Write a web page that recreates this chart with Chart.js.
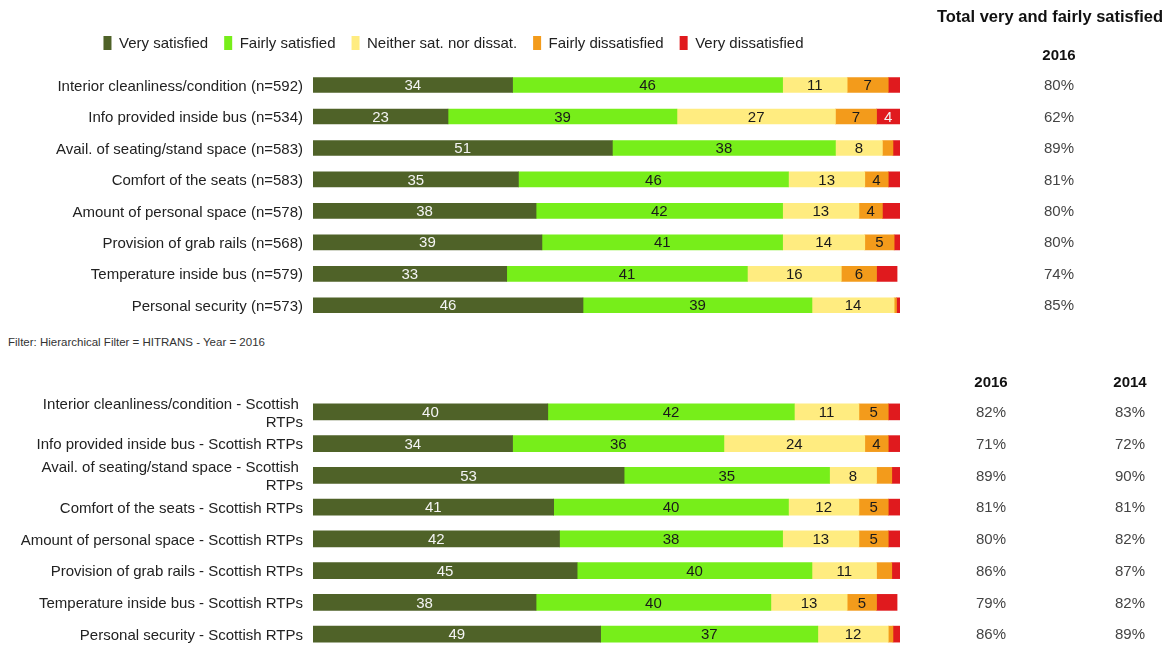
<!DOCTYPE html>
<html>
<head>
<meta charset="utf-8">
<script src="https://cdn.jsdelivr.net/npm/chart.js@4/dist/chart.umd.min.js"></script>
<style>
  html, body { margin: 0; padding: 0; width: 1172px; height: 646px; overflow: hidden; background: #fff; }
  canvas { position: absolute; left: 0; }
  #hitrans { top: 0; }
  #scottish { top: 366px; }
  #filter { position: absolute; left: 8px; top: 336px; font: 11.5px "Liberation Sans", Arial, sans-serif; color: #333; white-space: nowrap; }
</style>
</head>
<body>
<canvas id="hitrans" width="1172" height="321"></canvas>
<div id="filter">Filter: Hierarchical Filter = HITRANS - Year = 2016</div>
<canvas id="scottish" width="1172" height="284"></canvas>
<script>
// Response scale shared by both charts
const seriesNames = ['Very satisfied', 'Fairly satisfied', 'Neither sat. nor dissat.', 'Fairly dissatisfied', 'Very dissatisfied'];
const seriesColors = ['#4f6228', '#77ee1a', '#ffec80', '#f39b1b', '#e01a1e'];
const valueLabelColors = ['#f4f4f4', '#1a1a1a', '#1a1a1a', '#1a1a1a', '#f4f4f4'];

// HITRANS, 2016 (percent of respondents)
const hitransCategories = [
  'Interior cleanliness/condition (n=592)',
  'Info provided inside bus (n=534)',
  'Avail. of seating/stand space (n=583)',
  'Comfort of the seats (n=583)',
  'Amount of personal space (n=578)',
  'Provision of grab rails (n=568)',
  'Temperature inside bus (n=579)',
  'Personal security (n=573)'
];
const hitransVerySatisfied      = [34, 23, 51, 35, 38, 39, 33, 46];
const hitransFairlySatisfied    = [46, 39, 38, 46, 42, 41, 41, 39];
const hitransNeither            = [11, 27, 8, 13, 13, 14, 16, 14];
const hitransFairlyDissatisfied = [7, 7, 1.8, 4, 4, 5, 6, 0.4];
const hitransVeryDissatisfied   = [2, 4, 1.2, 2, 3, 1, 3.5, 0.6];
const hitransTotal2016 = ['80%', '62%', '89%', '81%', '80%', '80%', '74%', '85%'];

// Scottish RTPs comparison (percent of respondents)
const scottishCategories = [
  ['Interior cleanliness/condition - Scottish ', 'RTPs'],
  'Info provided inside bus - Scottish RTPs',
  ['Avail. of seating/stand space - Scottish ', 'RTPs'],
  'Comfort of the seats - Scottish RTPs',
  'Amount of personal space - Scottish RTPs',
  'Provision of grab rails - Scottish RTPs',
  'Temperature inside bus - Scottish RTPs',
  'Personal security - Scottish RTPs'
];
const scottishVerySatisfied      = [40, 34, 53, 41, 42, 45, 38, 49];
const scottishFairlySatisfied    = [42, 36, 35, 40, 38, 40, 40, 37];
const scottishNeither            = [11, 24, 8, 12, 13, 11, 13, 12];
const scottishFairlyDissatisfied = [5, 4, 2.6, 5, 5, 2.6, 5, 0.8];
const scottishVeryDissatisfied   = [2, 2, 1.4, 2, 2, 1.4, 3.5, 1.2];
const scottishTotal2016 = ['82%', '71%', '89%', '81%', '80%', '86%', '79%', '86%'];
const scottishTotal2014 = ['83%', '72%', '90%', '81%', '82%', '87%', '82%', '89%'];

const FONT = '"Liberation Sans", Arial, sans-serif';
Chart.defaults.font.family = FONT;
Chart.defaults.color = '#222';

function buildDatasets(series) {
  return series.map((values, i) => ({
    label: seriesNames[i],
    data: values,
    backgroundColor: seriesColors[i],
    borderWidth: 0
  }));
}

// Writes the rounded share inside each segment wide enough to hold it
const segmentLabels = {
  id: 'segmentLabels',
  afterDatasetsDraw(chart) {
    const ctx = chart.ctx;
    ctx.save();
    ctx.font = '15px ' + FONT;
    ctx.textAlign = 'center';
    ctx.textBaseline = 'middle';
    chart.data.datasets.forEach((ds, di) => {
      const meta = chart.getDatasetMeta(di);
      meta.data.forEach((bar, i) => {
        const v = ds.data[i];
        if (v < 4) return;
        ctx.fillStyle = valueLabelColors[di];
        ctx.fillText(String(v), (bar.x + bar.base) / 2, bar.y + 1);
      });
    });
    ctx.restore();
  }
};

// One-row key of the five response levels, centred above the bars
function legendRow(centerX, centerY) {
  return {
    id: 'legendRow',
    afterDraw(chart) {
      const ctx = chart.ctx;
      ctx.save();
      ctx.font = '15px ' + FONT;
      ctx.textBaseline = 'middle';
      ctx.textAlign = 'left';
      const boxW = 8, boxH = 14, textGap = 7.5, itemGap = 16;
      const widths = seriesNames.map(n => ctx.measureText(n).width);
      const total = widths.reduce((sum, w) => sum + boxW + textGap + w, 0) + itemGap * (seriesNames.length - 1);
      let x = centerX - total / 2;
      seriesNames.forEach((name, i) => {
        ctx.fillStyle = seriesColors[i];
        ctx.fillRect(x, centerY - boxH / 2, boxW, boxH);
        ctx.fillStyle = '#222';
        ctx.fillText(name, x + boxW + textGap, centerY + 1);
        x += boxW + textGap + widths[i] + itemGap;
      });
      ctx.restore();
    }
  };
}

// Right-hand table of "very + fairly satisfied" totals, one row per bar
function totalsColumns(cfg) {
  return {
    id: 'totalsColumns',
    afterDraw(chart) {
      const ctx = chart.ctx;
      const yScale = chart.scales.y;
      ctx.save();
      ctx.textAlign = 'center';
      ctx.textBaseline = 'middle';
      if (cfg.title) {
        ctx.font = 'bold 16.5px ' + FONT;
        ctx.fillStyle = '#111';
        ctx.fillText(cfg.title, cfg.titleX, cfg.titleY);
      }
      cfg.columns.forEach(col => {
        ctx.font = 'bold 15px ' + FONT;
        ctx.fillStyle = '#111';
        ctx.fillText(col.header, col.x, col.headerY);
        ctx.font = '15px ' + FONT;
        ctx.fillStyle = '#444';
        col.values.forEach((txt, i) => {
          ctx.fillText(txt, col.x, yScale.getPixelForValue(i) + 1);
        });
      });
      ctx.restore();
    }
  };
}

function makeChart(canvasId, categories, series, opts) {
  const plugins = [segmentLabels, totalsColumns(opts.totals)];
  if (opts.legend) plugins.push(legendRow(opts.legend.x, opts.legend.y));
  return new Chart(document.getElementById(canvasId), {
    type: 'bar',
    data: { labels: categories, datasets: buildDatasets(series) },
    options: {
      indexAxis: 'y',
      responsive: false,
      animation: false,
      events: [],
      barThickness: opts.barThickness,
      layout: { padding: { left: 0, right: 272, top: opts.top, bottom: 0 } },
      plugins: {
        legend: { display: false },
        tooltip: { enabled: false }
      },
      scales: {
        x: { stacked: true, min: 0, max: 100, display: false },
        y: {
          stacked: true,
          grid: { display: false, drawTicks: false },
          border: { display: false },
          ticks: {
            autoSkip: false,
            padding: 10,
            labelOffset: 1.5,
            color: '#222',
            font: { size: 15, lineHeight: 1.2 }
          },
          afterFit(scale) {
            scale.width = 313;
            scale.paddingTop = 0;
            scale.paddingBottom = 0;
          }
        }
      }
    },
    plugins
  });
}

makeChart('hitrans', hitransCategories,
  [hitransVerySatisfied, hitransFairlySatisfied, hitransNeither, hitransFairlyDissatisfied, hitransVeryDissatisfied],
  {
    barThickness: 15,
    top: 69.3,
    legend: { x: 453.5, y: 43 },
    totals: {
      title: 'Total very and fairly satisfied',
      titleX: 1050, titleY: 17,
      columns: [{ header: '2016', x: 1059, headerY: 56, values: hitransTotal2016 }]
    }
  });

makeChart('scottish', scottishCategories,
  [scottishVerySatisfied, scottishFairlySatisfied, scottishNeither, scottishFairlyDissatisfied, scottishVeryDissatisfied],
  {
    barThickness: 16,
    top: 30,
    legend: null,
    totals: {
      title: null,
      columns: [
        { header: '2016', x: 991, headerY: 17, values: scottishTotal2016 },
        { header: '2014', x: 1130, headerY: 17, values: scottishTotal2014 }
      ]
    }
  });
</script>
</body>
</html>
